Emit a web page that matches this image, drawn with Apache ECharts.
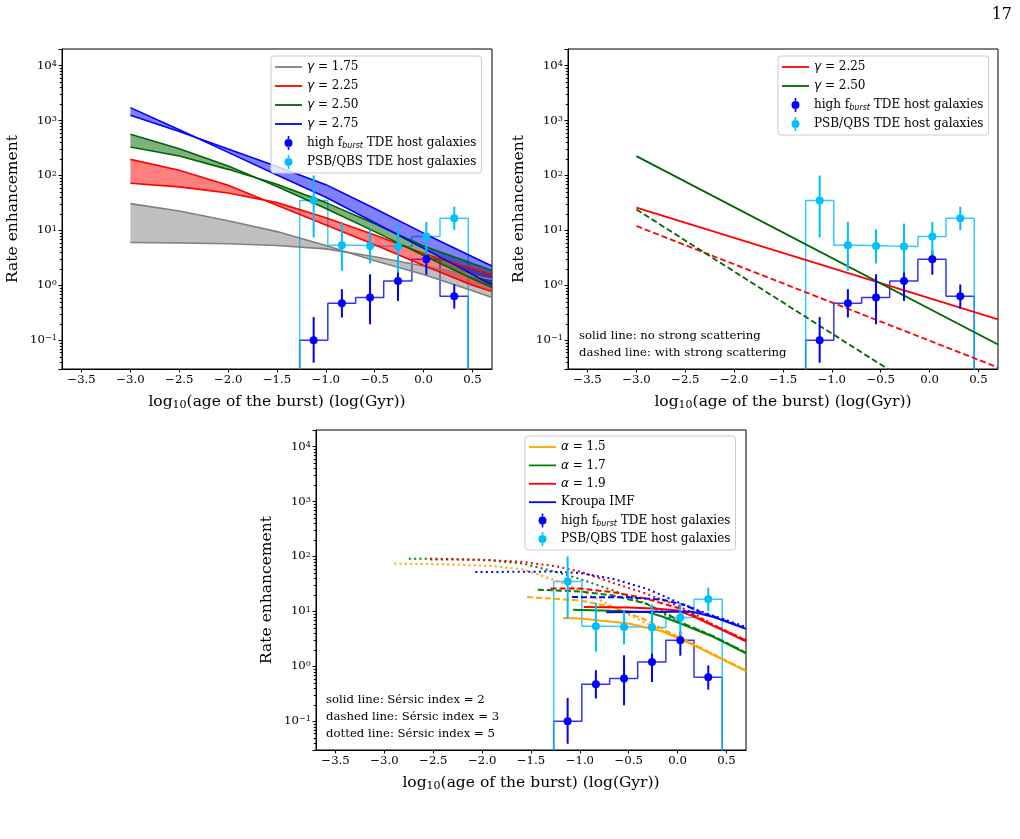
<!DOCTYPE html>
<html>
<head>
<meta charset="utf-8">
<script src="https://cdn.jsdelivr.net/npm/echarts@6/dist/echarts.min.js"></script>
<style>
  html, body { margin: 0; padding: 0; background: #fff; }
  #chart { width: 1020px; height: 839px; }
</style>
</head>
<body>
<div id="chart"></div>
<script>
const FONT = 'DejaVu Serif';

// 直方图分箱 (log10 age, Gyr)
const binEdges = [-1.268, -0.98, -0.695, -0.408, -0.12, 0.168, 0.457];
const binCenters = [-1.125, -0.836, -0.548, -0.262, 0.028, 0.314];

// high f_burst TDE host galaxies
const burstRate = [0.10, 0.47, 0.60, 1.2, 2.98, 0.63];
const burstLow = [0.039, 0.26, 0.195, 0.52, 1.56, 0.376];
const burstHigh = [0.265, 0.85, 1.59, 2.6, 4.3, 1.04];

// PSB/QBS TDE host galaxies
const psbRate = [35, 5.37, 5.2, 5.07, 7.7, 16.7];
const psbLow = [7.4, 1.85, 2.5, 1.7, 3.6, 10.1];
const psbHigh = [100, 14.3, 10.4, 13.3, 14.2, 27];

// 图1：各 gamma 的两条边界曲线
const p1X = [-3, -2.5, -2, -1.5, -1, -0.5, 0, 0.5, 0.7];
const g175A = [30.7, 22.5, 15, 9.5, 5.3, 2.8, 1.58, 0.8, 0.6];
const g175B = [6.0, 5.9, 5.7, 5.3, 4.6, 3.3, 2.25, 1.5, 1.29];
const g225A = [196, 124, 66, 28.6, 12.5, 5.5, 2.3, 1.0, 0.77];
const g225B = [72, 62, 48, 32, 17, 8.2, 3.8, 2.0, 1.58];
const g250A = [560, 307, 148, 63, 25, 9.5, 3.5, 1.32, 0.91];
const g250B = [329, 225, 129, 69, 32, 13.2, 5.2, 2.5, 1.87];
const g275A = [1714, 676, 263, 102, 40, 13.8, 4.7, 1.58, 1.01];
const g275B = [1241, 631, 302, 145, 68, 25, 8.9, 3.3, 2.24];

// 图2：有/无强散射
const p2X = [-3, 0.7];
const g225Solid = [26, 0.24];
const g250Solid = [225, 0.084];
const g225Dashed = [12, 0.032];
const g250Dashed = [24, 0.0016];

// 图3：不同 IMF 斜率 / Sersic index
const a15Solid = [[-1.17, 7.6], [-1.0, 7.4], [-0.5, 6.0], [-0.15, 4.3], [0.13, 2.6], [0.4, 1.5], [0.7, 0.82]];
const a15Dashed = [[-1.54, 18.2], [-1.0, 15.8], [-0.66, 12], [-0.32, 6.9], [-0.08, 4.1], [0.13, 2.7], [0.4, 1.55], [0.7, 0.84]];
const a15Dotted = [[-2.9, 74], [-2.4, 72], [-1.9, 67], [-1.58, 58], [-1.44, 48], [-1.2, 34], [-0.96, 22.4], [-0.5, 8.7], [-0.28, 5.6], [-0.08, 3.9], [0.13, 2.7], [0.4, 1.55], [0.7, 0.84]];
const a17Solid = [[-1.07, 10.7], [-0.6, 10.2], [-0.3, 9.6], [-0.15, 8.0], [0.03, 6.0], [0.37, 3.4], [0.7, 1.72]];
const a17Dashed = [[-1.43, 24.8], [-1.0, 23], [-0.66, 19.5], [-0.32, 13.8], [-0.08, 8.5], [0.03, 6.3], [0.37, 3.5], [0.7, 1.76]];
const a17Dotted = [[-2.75, 91], [-2.3, 90], [-1.92, 85], [-1.58, 74], [-1.24, 52], [-1.0, 39], [-0.66, 24], [-0.32, 13.8], [-0.08, 7.8], [0.13, 5.3], [0.37, 3.5], [0.7, 1.78]];
const a19Solid = [[-0.96, 12], [-0.5, 11.8], [-0.2, 11.2], [0.0, 10.4], [0.15, 8.3], [0.35, 5.6], [0.7, 2.85]];
const a19Dashed = [[-1.3, 26], [-1.0, 26], [-0.66, 22.4], [-0.32, 17], [0.03, 11.2], [0.2, 7.9], [0.35, 5.8], [0.7, 2.95]];
const a19Dotted = [[-2.53, 88], [-2.0, 87], [-1.6, 80], [-1.24, 66], [-1.0, 53], [-0.66, 33], [-0.32, 21], [0.03, 12], [0.2, 8.4], [0.35, 5.9], [0.7, 3.0]];
const kroupaSolid = [[-0.73, 9.6], [-0.3, 9.8], [0.15, 9.8], [0.37, 7.9], [0.7, 4.8]];
const kroupaDashed = [[-1.08, 18.2], [-0.5, 18], [-0.15, 16.3], [0.08, 12.9], [0.25, 9.4], [0.37, 8.1], [0.7, 4.9]];
const kroupaDotted = [[-2.07, 52], [-1.3, 53], [-1.0, 50], [-0.66, 39], [-0.32, 26], [0.03, 14], [0.2, 10.6], [0.37, 8.3], [0.7, 5.2]];

const NAME_BURST = 'high f_burst TDE host galaxies';
const NAME_PSB = 'PSB/QBS TDE host galaxies';
const DASH = [6, 3];
const DOT = [2, 3.3];
const X_MIN = -3.7, X_MAX = 0.7, Y_MIN = 0.03, Y_MAX = 20000;

const chart = echarts.init(document.getElementById('chart'));

// 把两组数组拼成 [x, y]
const zip = (xs, ys) => xs.map((x, i) => [x, ys[i]]);

// 普通曲线
const curve = (gi, name, data, color, type, width) => ({
    type: 'line', name, xAxisIndex: gi, yAxisIndex: gi, data,
    symbol: 'none', silent: true, z: 3,
    itemStyle: { color },
    lineStyle: { color, width: width || 1.8, type: type || 'solid' }
});

// 两条曲线之间的填充
const band = (gi, xs, ya, yb, fill) => ({
    type: 'custom', xAxisIndex: gi, yAxisIndex: gi, data: [[0, 1]],
    silent: true, clip: true, z: 3,
    renderItem: (params, api) => {
        const top = xs.map((x, i) => api.coord([x, ya[i]]));
        const bottom = xs.map((x, i) => api.coord([x, yb[i]])).reverse();
        return { type: 'polygon', shape: { points: top.concat(bottom) }, style: { fill } };
    }
});

// 阶梯直方图（两端落到底部）
const steps = (gi, values, color) => {
    const pts = [[binEdges[0], 1e-3]];
    values.forEach((v, i) => { pts.push([binEdges[i], v]); pts.push([binEdges[i + 1], v]); });
    pts.push([binEdges[binEdges.length - 1], 1e-3]);
    return {
        type: 'line', xAxisIndex: gi, yAxisIndex: gi, data: pts, symbol: 'none', silent: true, z: 2,
        lineStyle: { color, width: 1.5, opacity: 0.8 }
    };
};

// 数据点 + 误差棒
const errorbars = (gi, name, color, rate, low, high) => ({
    type: 'custom', name, xAxisIndex: gi, yAxisIndex: gi, silent: true, z: 6,
    itemStyle: { color },
    data: binCenters.map((x, i) => [x, rate[i], low[i], high[i]]),
    encode: { x: 0, y: 1 },
    renderItem: (params, api) => {
        const x = api.value(0);
        const p = api.coord([x, api.value(1)]);
        const a = api.coord([x, api.value(2)]);
        const b = api.coord([x, api.value(3)]);
        return {
            type: 'group', children: [
                { type: 'line', shape: { x1: a[0], y1: a[1], x2: b[0], y2: b[1] }, style: { stroke: color, lineWidth: 2 } },
                { type: 'circle', shape: { cx: p[0], cy: p[1], r: 4 }, style: { fill: color } }
            ]
        };
    }
});

const observed = (gi) => [
    steps(gi, burstRate, '#0000ff'),
    steps(gi, psbRate, '#00bfff'),
    errorbars(gi, NAME_BURST, '#0000ff', burstRate, burstLow, burstHigh),
    errorbars(gi, NAME_PSB, '#00bfff', psbRate, psbLow, psbHigh)
];

// 对数轴的次刻度 (2..9 x 10^n)
const minorValues = [];
for (let e = -2; e <= 4; e++) {
    for (let k = 2; k <= 9; k++) {
        const v = k * Math.pow(10, e);
        if (v > Y_MIN && v < Y_MAX) minorValues.push(v);
    }
}
const minorTicks = (gi) => ({
    type: 'custom', xAxisIndex: gi, yAxisIndex: gi, silent: true, clip: false, z: 1,
    data: minorValues.map((v) => [X_MIN, v]),
    encode: { x: 0, y: 1 },
    renderItem: (params, api) => {
        const p = api.coord([api.value(0), api.value(1)]);
        const y = Math.round(p[1]) + 0.5;
        return { type: 'line', shape: { x1: p[0] - 2.2, y1: y, x2: p[0], y2: y }, style: { stroke: '#000', lineWidth: 1 } };
    }
});

// 坐标轴
const xLabel = (v) => {
    if (Math.abs(v * 2 - Math.round(v * 2)) > 1e-6) return '';
    return (v < 0 ? '\u2212' : '') + Math.abs(v).toFixed(1);
};
const yLabel = (v) => {
    const e = Math.log10(v);
    const n = Math.round(e);
    if (Math.abs(e - n) > 1e-6) return '';
    return '10{sup|' + (n < 0 ? '\u2212' + (-n) : n) + '}';
};

const makeX = (gi) => ({
    type: 'value', gridIndex: gi, min: X_MIN, max: X_MAX,
    splitNumber: 9, minInterval: 0.5, maxInterval: 0.5,
    axisLine: { onZero: false, lineStyle: { color: '#000', width: 1 } },
    axisTick: { length: 3.5, lineStyle: { color: '#000' } },
    splitLine: { show: false },
    axisLabel: { formatter: xLabel, showMinLabel: false, showMaxLabel: false, margin: 5,
        fontFamily: FONT, fontSize: 11.7, color: '#000' },
    name: 'log{sub|10}(age of the burst) (log(Gyr))',
    nameLocation: 'middle', nameGap: 24,
    nameTextStyle: { fontFamily: FONT, fontSize: 15.5, color: '#000', lineHeight: 18,
        rich: { sub: { fontFamily: FONT, fontSize: 11, verticalAlign: 'bottom', color: '#000' } } }
});

const makeY = (gi) => ({
    type: 'log', logBase: 10, gridIndex: gi, min: Y_MIN, max: Y_MAX,
    axisLine: { onZero: false, lineStyle: { color: '#000', width: 1 } },
    axisTick: { length: 3.5, lineStyle: { color: '#000' } },
    minorTick: { show: false },
    splitLine: { show: false }, minorSplitLine: { show: false },
    axisLabel: { formatter: yLabel, margin: 5, fontFamily: FONT, fontSize: 11.7, color: '#000',
        rich: { sup: { fontFamily: FONT, fontSize: 8.2, verticalAlign: 'top', color: '#000' } } },
    name: 'Rate enhancement', nameLocation: 'middle', nameGap: 41,
    nameTextStyle: { fontFamily: FONT, fontSize: 15.5, color: '#000' }
});

// 图例
const ERR_ICON = 'path://M1,7a4,4 0 1,0 8,0a4,4 0 1,0 -8,0zM4.2,0h1.6v3.2h-1.6zM4.2,10.8h1.6v3.2h-1.6z';
const LINE_ICON = 'path://M0,0H27V1.8H0Z';
const legendAt = (left, top, names, gap) => ({
    left, top, orient: 'vertical', selectedMode: false,
    itemWidth: 27, itemHeight: 14, itemGap: gap, padding: [4, 5, 4, 4],
    backgroundColor: 'rgba(255,255,255,0.8)', borderColor: '#cccccc', borderWidth: 1, borderRadius: 3,
    data: names.map((n) => ({ name: n, icon: (n === NAME_BURST || n === NAME_PSB) ? ERR_ICON : LINE_ICON })),
    formatter: (n) => n.replace('f_burst', 'f{s|burst}').replace(/^([γα])/, '{m|$1}'),
    textStyle: { fontFamily: FONT, fontSize: 12, color: '#000', lineHeight: 14,
        rich: {
            s: { fontFamily: 'DejaVu Sans', fontStyle: 'italic', fontSize: 8, verticalAlign: 'bottom', color: '#000' },
            m: { fontFamily: 'DejaVu Sans', fontStyle: 'italic', fontSize: 12, lineHeight: 14, color: '#000' }
        } }
});

const gridBox = (left, top) => ({ left, top, width: 430, height: 320, show: true, borderColor: '#000', borderWidth: 1 });

const series = [minorTicks(0), minorTicks(1), minorTicks(2)];

// ---- 图1 ----
series.push(...observed(0).slice(0, 2));
[
    ['γ = 1.75', g175A, g175B, '#808080', 'rgba(128,128,128,0.5)'],
    ['γ = 2.25', g225A, g225B, '#ff0000', 'rgba(255,0,0,0.5)'],
    ['γ = 2.50', g250A, g250B, '#006400', 'rgba(0,100,0,0.5)'],
    ['γ = 2.75', g275A, g275B, '#0000ff', 'rgba(0,0,255,0.5)']
].forEach(([name, a, b, color, fill]) => {
    series.push(band(0, p1X, a, b, fill));
    series.push(curve(0, name, zip(p1X, a), color, 'solid', 1.6));
    series.push(curve(0, name + ' b', zip(p1X, b), color, 'solid', 1.6));
});
series.push(...observed(0).slice(2));

// ---- 图2 ----
series.push(...observed(1).slice(0, 2));
series.push(curve(1, 'γ = 2.25', zip(p2X, g225Solid), '#ff0000'));
series.push(curve(1, 'γ = 2.50', zip(p2X, g250Solid), '#006400'));
series.push(curve(1, 'γ = 2.25 scattering', zip(p2X, g225Dashed), '#ff0000', DASH));
series.push(curve(1, 'γ = 2.50 scattering', zip(p2X, g250Dashed), '#006400', DASH));
series.push(...observed(1).slice(2));

// ---- 图3 ----
series.push(...observed(2).slice(0, 2));
[
    ['α = 1.5', a15Solid, a15Dashed, a15Dotted, '#ffa500'],
    ['α = 1.7', a17Solid, a17Dashed, a17Dotted, '#008000'],
    ['α = 1.9', a19Solid, a19Dashed, a19Dotted, '#ff0000'],
    ['Kroupa IMF', kroupaSolid, kroupaDashed, kroupaDotted, '#0000ff']
].forEach(([name, s, d, t, color]) => {
    series.push(curve(2, name, s, color, 'solid', 2));
    series.push(curve(2, name + ' n3', d, color, DASH, 2));
    series.push(curve(2, name + ' n5', t, color, DOT, 2));
});
series.push(...observed(2).slice(2));

const options = {
    animation: false,
    backgroundColor: '#fff',
    textStyle: { fontFamily: FONT },
    grid: [gridBox(62, 49), gridBox(568, 49), gridBox(316, 430)],
    xAxis: [makeX(0), makeX(1), makeX(2)],
    yAxis: [makeY(0), makeY(1), makeY(2)],
    legend: [
        legendAt(271, 56, ['γ = 1.75', 'γ = 2.25', 'γ = 2.50', 'γ = 2.75', NAME_BURST, NAME_PSB], 5),
        legendAt(778, 56, ['γ = 2.25', 'γ = 2.50', NAME_BURST, NAME_PSB], 5),
        legendAt(525, 436, ['α = 1.5', 'α = 1.7', 'α = 1.9', 'Kroupa IMF', NAME_BURST, NAME_PSB], 4.4)
    ],
    graphic: [
        { type: 'text', right: 8, top: 7, style: { text: '17', fontFamily: FONT, fontSize: 16, fill: '#000' } },
        { type: 'text', left: 579, top: 328, style: {
            text: 'solid line: no strong scattering\ndashed line: with strong scattering',
            fontFamily: FONT, fontSize: 11.7, lineHeight: 16.7, fill: '#000' } },
        { type: 'text', left: 326, top: 692, style: {
            text: 'solid line: Sérsic index = 2\ndashed line: Sérsic index = 3\ndotted line: Sérsic index = 5',
            fontFamily: FONT, fontSize: 11.7, lineHeight: 16.7, fill: '#000' } }
    ],
    series
};

chart.setOption(options);
</script>
</body>
</html>
